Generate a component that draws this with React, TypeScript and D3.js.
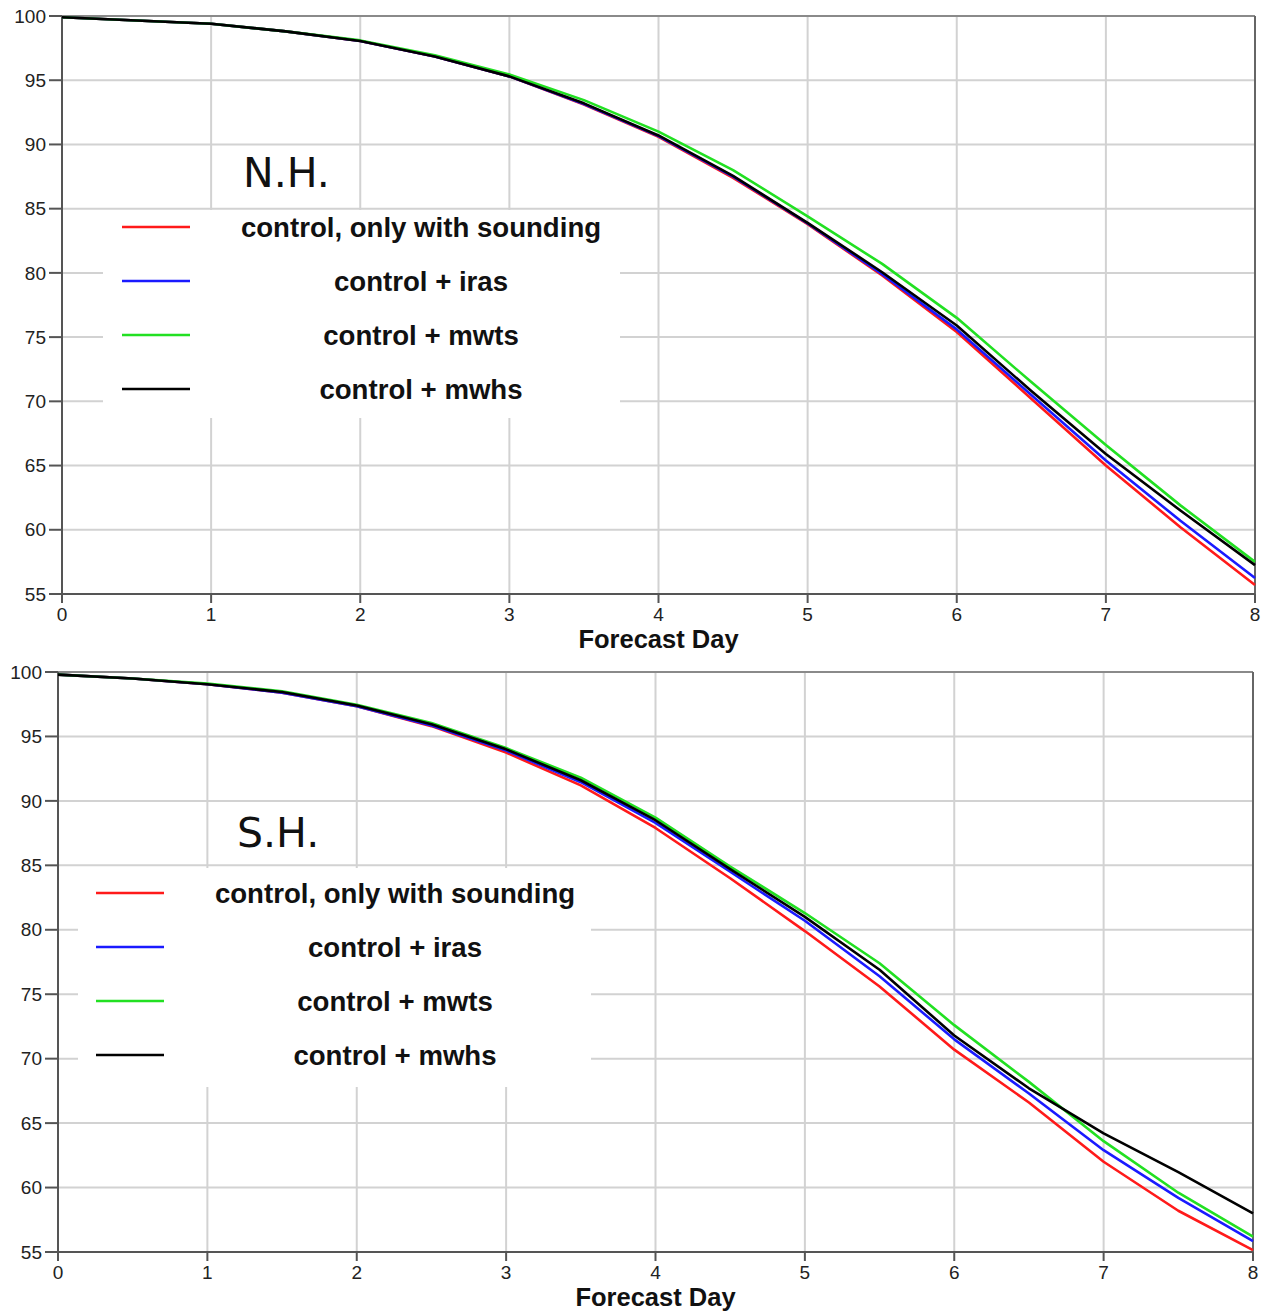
import React, { useEffect, useRef } from 'react';
import * as d3 from 'd3';

// forecast days, half-day steps
const days = [0, 0.5, 1, 1.5, 2, 2.5, 3, 3.5, 4, 4.5, 5, 5.5, 6, 6.5, 7, 7.5, 8];
const xTicks = [0, 1, 2, 3, 4, 5, 6, 7, 8];
const yTicks = [55, 60, 65, 70, 75, 80, 85, 90, 95, 100];

const seriesNames = ['control, only with sounding', 'control + iras', 'control + mwts', 'control + mwhs'];
const seriesColors = ['#ff1a1a', '#1a1aff', '#22e022', '#000000'];

// Northern hemisphere
const nhRed = [99.9, 99.65, 99.4, 98.8, 98.05, 96.85, 95.3, 93.1, 90.6, 87.4, 83.8, 79.8, 75.4, 70.2, 65.0, 60.2, 55.7];
const nhBlue = [99.9, 99.65, 99.4, 98.8, 98.05, 96.85, 95.3, 93.15, 90.65, 87.5, 83.85, 79.9, 75.6, 70.5, 65.4, 60.7, 56.25];
const nhGreen = [99.9, 99.65, 99.4, 98.8, 98.1, 96.95, 95.45, 93.45, 91.0, 88.0, 84.4, 80.7, 76.5, 71.5, 66.6, 61.9, 57.5];
const nhBlack = [99.9, 99.65, 99.4, 98.8, 98.05, 96.85, 95.3, 93.2, 90.7, 87.55, 83.9, 80.05, 75.9, 70.8, 65.9, 61.5, 57.25];

// Southern hemisphere
const shRed = [99.8, 99.5, 99.05, 98.4, 97.35, 95.8, 93.75, 91.2, 87.9, 84.0, 79.9, 75.6, 70.7, 66.6, 62.0, 58.2, 55.15];
const shBlue = [99.8, 99.5, 99.05, 98.4, 97.35, 95.85, 93.9, 91.45, 88.3, 84.5, 80.7, 76.4, 71.5, 67.3, 62.9, 59.2, 55.85];
const shGreen = [99.8, 99.5, 99.1, 98.5, 97.45, 96.05, 94.1, 91.8, 88.7, 84.9, 81.3, 77.4, 72.6, 68.2, 63.6, 59.6, 56.2];
const shBlack = [99.8, 99.5, 99.05, 98.45, 97.4, 95.95, 94.0, 91.6, 88.5, 84.7, 81.0, 76.9, 71.8, 67.7, 64.2, 61.2, 58.0];

const panels = [
  {
    title: 'N.H.',
    series: [nhRed, nhBlue, nhGreen, nhBlack],
    box: { left: 62, right: 1255, top: 16, bottom: 594 },
    legend: { x: 103, y: 210, w: 517, h: 208, lineX: 122, lineY: 227, textX: 421 },
    titlePos: { x: 243, y: 187 },
  },
  {
    title: 'S.H.',
    series: [shRed, shBlue, shGreen, shBlack],
    box: { left: 58, right: 1253, top: 672, bottom: 1252 },
    legend: { x: 78, y: 868, w: 513, h: 219, lineX: 96, lineY: 893, textX: 395 },
    titlePos: { x: 237, y: 847 },
  },
];

const App = () => {
  const chartRef = useRef<SVGSVGElement>(null);

  useEffect(() => {
    const svg = d3.select(chartRef.current);
    svg.selectAll('*').remove();

    panels.forEach((p) => {
      const { left, right, top, bottom } = p.box;
      const g = svg.append('g');

      const x = d3.scaleLinear().domain([0, 8]).range([left, right]);
      const y = d3.scaleLinear().domain([55, 100]).range([bottom, top]);

      // grid
      g.selectAll('.vg')
        .data(xTicks)
        .enter()
        .append('line')
        .attr('x1', (d) => x(d))
        .attr('x2', (d) => x(d))
        .attr('y1', top)
        .attr('y2', bottom)
        .attr('stroke', '#d2d2d2')
        .attr('stroke-width', 2);
      g.selectAll('.hg')
        .data(yTicks)
        .enter()
        .append('line')
        .attr('x1', left)
        .attr('x2', right)
        .attr('y1', (d) => y(d))
        .attr('y2', (d) => y(d))
        .attr('stroke', '#d2d2d2')
        .attr('stroke-width', 2);

      // legend background hides grid
      const L = p.legend;
      g.append('rect').attr('x', L.x).attr('y', L.y).attr('width', L.w).attr('height', L.h).attr('fill', '#fff');

      // frame
      g.append('line').attr('x1', left).attr('x2', right).attr('y1', top).attr('y2', top)
        .attr('stroke', '#8a8a8a').attr('stroke-width', 2);
      g.append('line').attr('x1', right).attr('x2', right).attr('y1', top).attr('y2', bottom)
        .attr('stroke', '#666').attr('stroke-width', 2);
      g.append('line').attr('x1', left).attr('x2', right).attr('y1', bottom).attr('y2', bottom)
        .attr('stroke', '#555').attr('stroke-width', 2);
      g.append('line').attr('x1', left).attr('x2', left).attr('y1', top).attr('y2', bottom)
        .attr('stroke', '#555').attr('stroke-width', 2);

      // ticks
      g.selectAll('.xt')
        .data(xTicks)
        .enter()
        .append('line')
        .attr('x1', (d) => x(d))
        .attr('x2', (d) => x(d))
        .attr('y1', bottom)
        .attr('y2', bottom + 9)
        .attr('stroke', '#555')
        .attr('stroke-width', 2);
      g.selectAll('.yt')
        .data(yTicks)
        .enter()
        .append('line')
        .attr('x1', left - 13)
        .attr('x2', left)
        .attr('y1', (d) => y(d))
        .attr('y2', (d) => y(d))
        .attr('stroke', '#555')
        .attr('stroke-width', 2);

      g.selectAll('.xl')
        .data(xTicks)
        .enter()
        .append('text')
        .attr('x', (d) => x(d))
        .attr('y', bottom + 27)
        .attr('text-anchor', 'middle')
        .attr('font-family', 'Liberation Sans, Arial, sans-serif')
        .attr('font-size', 19)
        .attr('fill', '#222')
        .text((d) => d);
      g.selectAll('.yl')
        .data(yTicks)
        .enter()
        .append('text')
        .attr('x', left - 16)
        .attr('y', (d) => y(d))
        .attr('dy', '0.35em')
        .attr('text-anchor', 'end')
        .attr('font-family', 'Liberation Sans, Arial, sans-serif')
        .attr('font-size', 19)
        .attr('fill', '#222')
        .text((d) => d);

      g.append('text')
        .attr('x', (left + right) / 2)
        .attr('y', bottom + 54)
        .attr('text-anchor', 'middle')
        .attr('font-family', 'Liberation Sans, Arial, sans-serif')
        .attr('font-weight', 'bold')
        .attr('font-size', 25.5)
        .attr('fill', '#111')
        .text('Forecast Day');

      // series
      const line = d3
        .line<number>()
        .x((_, i) => x(days[i]))
        .y((d) => y(d));
      p.series.forEach((s, i) => {
        g.append('path')
          .datum(s)
          .attr('d', line)
          .attr('fill', 'none')
          .attr('stroke', seriesColors[i])
          .attr('stroke-width', 2.6)
          .attr('stroke-linejoin', 'round');
      });

      // title
      g.append('text')
        .attr('x', p.titlePos.x)
        .attr('y', p.titlePos.y)
        .attr('font-family', 'DejaVu Sans, sans-serif')
        .attr('font-size', 41)
        .attr('fill', '#111')
        .text(p.title);

      // legend entries
      seriesNames.forEach((name, i) => {
        const ly = L.lineY + i * 54;
        g.append('line')
          .attr('x1', L.lineX)
          .attr('x2', L.lineX + 68)
          .attr('y1', ly)
          .attr('y2', ly)
          .attr('stroke', seriesColors[i])
          .attr('stroke-width', 2.6);
        g.append('text')
          .attr('x', L.textX)
          .attr('y', ly + 10)
          .attr('text-anchor', 'middle')
          .attr('font-family', 'Liberation Sans, Arial, sans-serif')
          .attr('font-weight', 'bold')
          .attr('font-size', 27.6)
          .attr('fill', '#111')
          .text(name);
      });
    });
  }, []);

  return (
    <svg
      ref={chartRef}
      width={1273}
      height={1313}
      style={{ position: 'absolute', left: 0, top: 0, background: '#fff' }}
    ></svg>
  );
};

export default App;
